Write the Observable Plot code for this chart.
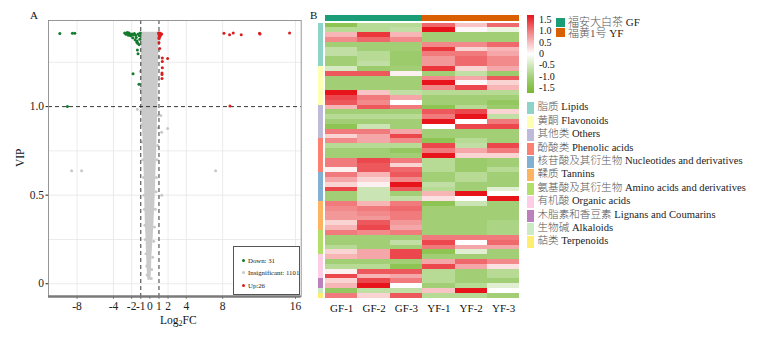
<!DOCTYPE html>
<html><head><meta charset="utf-8">
<script src="https://cdn.jsdelivr.net/npm/d3@7"></script>
<script src="https://cdn.jsdelivr.net/npm/@observablehq/plot@0.6"></script>
<style>
body{margin:0;background:#fff;}
#root{position:relative;width:772px;height:337px;overflow:hidden;font-family:"Liberation Serif","Noto Sans CJK SC",serif;color:#111;background:#fff;}
.abs{position:absolute;white-space:nowrap;line-height:1;}
.cjk{color:#555;font-weight:300;}
</style></head><body><div id="root"></div>
<script>
// ---------- Panel A : volcano ----------
const xTickValues = [-8,-4,-2,-1,0,1,2,4,8,16];
const yTickValues = [0,0.5,1.0];
const yGridValues = [0,0.25,0.5,0.75,1.25];
const xGridValues = [-8,-4,-2,2,4,8,16];
const fcThresholds = [-1,1];
const vipThreshold = [1.0];

const downX = [-9.90,-8.51,-8.25,-2.77,-2.55,-2.29,-2.62,-2.36,-2.11,-1.81,-1.56,-1.30,-1.89,-1.63,-1.45,-1.34,-1.19,-1.37,-1.30,-1.85,-1.20,-9.06,-2.45,-2.20,-1.95,-1.70,-1.50,-1.15,-1.10,-1.40,-1.05];
const downVip = [1.412,1.414,1.414,1.416,1.416,1.416,1.408,1.403,1.400,1.405,1.403,1.410,1.388,1.377,1.365,1.358,1.350,1.320,1.298,1.185,1.126,1.000,1.418,1.410,1.410,1.412,1.390,1.400,1.380,1.370,1.415];
const upX = [8.14,8.76,9.16,10.04,12.05,12.10,15.35,0.95,1.05,1.15,1.00,1.20,1.30,1.10,1.00,1.00,1.08,1.37,1.95,1.37,1.37,1.33,1.33,1.33,8.80,1.00];
const upVip = [1.414,1.406,1.416,1.406,1.414,1.410,1.416,1.415,1.416,1.414,1.405,1.404,1.410,1.395,1.390,1.360,1.328,1.275,1.271,1.254,1.219,1.181,1.190,1.158,1.004,1.385];
const grayX = [-8.6,-7.5,7.22,1.3,1.95,1.29,-1.37,1.2,-1.0,-1.05,-1.0,-0.98,-0.9,-0.85,-0.78,-0.7,-0.65,-0.6,-0.55,-0.5,-0.42,-0.35,-0.3,1.05,1.0,0.98,0.95,0.92,0.9,0.85,0.8,0.72,0.68,0.6,0.5,0.42,0.3,0.2,0.15];
const grayVip = [0.638,0.638,0.638,0.50,0.877,0.855,0.985,0.95,1.38,1.2,1.1,0.98,0.9,0.8,0.7,0.6,0.5,0.42,0.33,0.25,0.17,0.1,0.05,1.38,1.28,1.15,1.05,0.95,0.88,0.78,0.7,0.6,0.52,0.42,0.32,0.24,0.15,0.08,0.03];
// envelope of the dense grey (insignificant) cloud
const cloudVip = [1.42,1.35,1.25,1.15,1.05,0.95,0.85,0.75,0.65,0.55,0.45,0.35,0.25,0.15,0.08,0.02];
const cloudLeft = [-0.95,-0.95,-0.93,-0.93,-0.92,-0.85,-0.78,-0.70,-0.65,-0.58,-0.55,-0.50,-0.42,-0.35,-0.30,-0.22];
const cloudRight = [1.00,1.00,0.95,0.92,0.90,0.85,0.80,0.75,0.68,0.62,0.55,0.45,0.35,0.22,0.18,0.12];
const volcanoLegend = ["Down: 31","Insignificant: 1101","Up:26"];
const volcanoColors = ["#127a2c","#c8c8c8","#d81e1e"];

// ---------- Panel B : heatmap ----------
const samples = ["GF-1","GF-2","GF-3","YF-1","YF-2","YF-3"];
const sampleGroup = [0,0,0,1,1,1];
const groupCN = ["福安大白茶","福黄1号"];
const groupEN = ["GF","YF"];
const groupColors = ["#1b9e77","#d95f02"];
const classCN = ["脂质","黄酮","其他类","酚酸类","核苷酸及其衍生物","鞣质","氨基酸及其衍生物","有机酸","木脂素和香豆素","生物碱","萜类"];
const classEN = ["Lipids","Flavonoids","Others","Phenolic acids","Nucleotides and derivatives","Tannins","Amino acids and derivatives","Organic acids","Lignans and Coumarins","Alkaloids","Terpenoids"];
const classColors = ["#8dd3c7","#ffffb3","#bebada","#fb8072","#80b1d3","#fdb462","#b3de69","#fccde5","#bc80bd","#ccebc5","#ffed6f"];
const classCounts = [9,8,7,7,6,6,5,5,2,1,1];
const heatValues = [
[-1.2,-0.7,-0.7,1.0,0.4,1.0],
[-0.7,-0.7,-0.6,1.6,0.05,-0.2],
[0.5,1.3,0.5,-0.9,-0.9,-0.9],
[0.8,1.0,0.8,-0.9,-0.9,-0.9],
[-0.9,-0.9,-0.9,0.8,0.8,1.0],
[-0.6,-0.9,-0.9,1.3,0.3,0.5],
[-0.6,-0.7,-1.0,0.9,0.9,0.6],
[-0.9,-0.7,-1.0,0.7,1.0,0.8],
[-0.9,-0.6,-1.0,0.7,1.0,0.8],
[-0.4,-1.0,-0.9,1.3,0.3,0.6],
[1.1,1.1,0.1,-0.9,-0.6,-1.0],
[-0.9,-0.9,-0.9,0.8,0.6,1.1],
[-0.9,-0.9,-0.9,1.6,0.05,0.3],
[-0.9,-0.9,-0.9,0.8,1.2,0.5],
[1.6,0.4,-0.6,-0.7,-0.7,-0.7],
[1.2,0.9,0.6,-0.9,-0.9,-0.9],
[1.1,0.8,0.0,-0.9,-0.9,-1.1],
[0.5,1.1,0.9,-1.2,-0.7,-1.0],
[-0.9,-0.9,-0.9,1.1,1.2,0.3],
[-0.7,-0.7,-0.7,0.9,1.6,-0.6],
[-0.9,-0.9,-0.9,1.5,0.0,0.9],
[-1.2,-0.5,-0.9,0.0,1.2,1.2],
[0.9,0.9,0.6,-0.9,-0.9,-0.9],
[0.3,0.6,1.2,-0.9,-0.9,-0.9],
[0.8,0.6,0.8,-1.2,-0.7,-0.9],
[-0.7,-0.7,-0.7,1.2,-0.6,1.2],
[-0.9,-0.9,-1.1,0.9,0.6,0.9],
[-0.9,-0.9,-0.9,1.5,0.3,0.3],
[0.9,1.2,0.9,-0.7,-1.0,-0.9],
[0.9,1.1,0.3,-0.7,-1.0,-0.9],
[0.1,1.1,1.0,-0.7,-1.0,-0.7],
[0.9,0.5,1.1,-0.9,-0.7,-0.9],
[0.6,0.3,0.8,-0.9,-0.7,-0.9],
[0.3,0.1,1.5,-0.6,-0.9,-0.9],
[1.2,-0.5,1.1,-0.7,-0.9,-0.3],
[-0.9,-0.5,-0.9,0.5,1.6,0.0],
[-0.9,-0.5,-0.6,0.2,0.0,1.6],
[0.9,0.5,0.9,-1.2,-0.5,-0.9],
[0.8,0.9,1.0,-0.9,-0.9,-0.9],
[0.7,0.8,0.9,-0.9,-0.9,-0.9],
[0.7,0.7,0.9,-0.9,-0.9,-0.9],
[0.3,1.1,0.7,-0.9,-0.9,-0.8],
[0.5,1.2,0.6,-0.9,-0.9,-0.8],
[0.9,0.8,0.9,-0.9,-0.9,-0.8],
[-0.9,-0.9,-0.9,0.9,0.9,0.9],
[-0.9,-0.9,-0.6,1.2,0.0,1.0],
[-0.7,-0.9,-0.9,0.9,0.6,0.6],
[0.3,0.6,1.2,-1.2,-0.3,-0.9],
[0.5,0.6,1.2,-0.9,-0.9,-0.9],
[-0.9,-0.9,-0.9,0.6,1.0,0.8],
[-0.7,-0.7,-1.2,1.2,0.6,0.2],
[0.1,1.1,1.1,-0.7,-0.9,-0.7],
[1.2,0.5,0.6,-0.7,-0.9,-0.7],
[0.3,1.2,0.9,-0.7,-0.9,-0.9],
[0.5,1.5,0.0,-0.9,-0.7,-0.3],
[-1.1,-0.6,-0.6,0.4,1.6,0.0],
[0.9,0.3,1.1,-0.7,-0.7,-0.9]
];
const heatLegendTicks = [1.5,1.0,0.5,0,-0.5,-1.0,-1.5];
const heatDomain = [-1.5,-0.9,0,0.9,1.5];
const heatRange = ["#78b830","#a2cf76","#ffffff","#f07a7c","#e8141c"];

const root = document.getElementById("root");
function addDiv(html, style){ const d=document.createElement("div"); d.className="abs"; d.innerHTML=html; Object.assign(d.style, style); root.appendChild(d); return d; }

// ----- Plot A -----
const down = downX.map((x,i)=>({x, y: downVip[i]}));
const up = upX.map((x,i)=>({x, y: upVip[i]}));
const gray = grayX.map((x,i)=>({x, y: grayVip[i]}));
const cloud = cloudVip.map((y,i)=>({y, x1: cloudLeft[i], x2: cloudRight[i]}));

const plotA = Plot.plot({
  width: 310, height: 337,
  marginLeft: 48, marginRight: 9.3, marginTop: 20, marginBottom: 41,
  x: {domain: [-11.14, 16.63], ticks: xTickValues, tickFormat: d => String(d), label: null, tickSize: 2.5, tickPadding: 3},
  y: {domain: [-0.072, 1.486], ticks: yTickValues, tickFormat: d => d === 0 ? "0" : d.toFixed(1), label: null, tickSize: 2.5, tickPadding: 2},
  style: {fontFamily: "Liberation Serif", fontSize: "11.5px", color: "#222", background: "transparent"},
  marks: [
    Plot.ruleY(yGridValues, {stroke: "#e6e6e6", strokeWidth: 0.8}),
    Plot.ruleX(xGridValues, {stroke: "#e6e6e6", strokeWidth: 0.8}),
    Plot.areaX(cloud, {y: "y", x1: "x1", x2: "x2", fill: "#cacaca", curve: "monotone-y"}),
    Plot.dot(gray, {x: "x", y: "y", r: 1.5, fill: volcanoColors[1]}),
    Plot.ruleX(fcThresholds, {stroke: "#222", strokeDasharray: "4,3", strokeWidth: 0.9}),
    Plot.ruleY(vipThreshold, {stroke: "#222", strokeDasharray: "4,3", strokeWidth: 0.9}),
    Plot.dot(down, {x: "x", y: "y", r: 1.5, fill: volcanoColors[0]}),
    Plot.dot(up, {x: "x", y: "y", r: 1.5, fill: volcanoColors[2]}),
    Plot.frame({stroke: "#8c8c8c", strokeWidth: 0.9}),
    Plot.ruleY([-0.072], {stroke: "#7a7a7a", strokeWidth: 2.6})
  ]
});
plotA.style.position = "absolute"; plotA.style.left = "0px"; plotA.style.top = "0px";
root.appendChild(plotA);

// Panel A labels
addDiv("A", {left: "30px", top: "10px", fontSize: "11px"});
addDiv("VIP", {left: "11px", top: "152px", fontSize: "11.5px", transform: "rotate(-90deg)", transformOrigin: "center"});
addDiv("Log<sub style='font-size:8px;vertical-align:-2px'>2</sub>FC", {left: "160px", top: "315px", fontSize: "11.5px"});
// volcano legend box
const lg = addDiv("", {left: "233px", top: "246px", width: "67px", height: "49px", border: "1px solid #555", background: "#fff", boxSizing: "border-box"});
volcanoLegend.forEach((t,i)=>{
  const row = document.createElement("div");
  row.style.cssText = `position:absolute;left:8px;top:${9.5 + i*12.9}px;font-size:6.8px;white-space:nowrap;line-height:8px;color:#222`;
  row.innerHTML = `<span style="display:inline-block;width:3px;height:3px;border-radius:50%;background:${volcanoColors[i]};margin-right:3px;vertical-align:1px"></span>${t}`;
  lg.appendChild(row);
});

// ----- Plot B -----
const nRows = heatValues.length;
const cells = heatValues.flatMap((row, r) => row.map((v, c) => ({r, c, v})));
const rowClass = classCounts.flatMap((n, k) => Array(n).fill(k));
const classCells = rowClass.map((k, r) => ({r, k}));
const groupCells = samples.map((s, i) => ({i, g: sampleGroup[i]}));

const plotB = Plot.plot({
  width: 215, height: 337,
  marginLeft: 15, marginRight: 5.7, marginTop: 22.5, marginBottom: 39.3,
  x: {domain: [0, samples.length], axis: null},
  y: {domain: [0, nRows], reverse: true, axis: null},
  color: {type: "linear", domain: heatDomain, range: heatRange, clamp: true},
  style: {fontFamily: "Liberation Serif", fontSize: "11px", color: "#111", background: "transparent"},
  marks: [
    Plot.rect(cells, {x1: "c", x2: d => d.c + 1, y1: "r", y2: d => d.r + 1, fill: "v", shapeRendering: "crispEdges"}),
    Plot.rect(groupCells, {x1: "i", x2: d => d.i + 1, y1: -1.55, y2: -0.31, fill: d => groupColors[d.g], shapeRendering: "crispEdges"}),
    Plot.rect(classCells, {x1: -0.216, x2: -0.062, y1: "r", y2: d => d.r + 1, fill: d => classColors[d.k], shapeRendering: "crispEdges"}),
    Plot.text(samples, {x: (d, i) => i + 0.5, y: nRows, dy: 10, text: d => d, fontSize: 11, fill: "#111"})
  ]
});
plotB.style.position = "absolute"; plotB.style.left = "310px"; plotB.style.top = "0px";
root.appendChild(plotB);

addDiv("B", {left: "310px", top: "10px", fontSize: "11px"});

// continuous colour legend
const stopsSorted = heatDomain.map((v, i) => ({v, c: heatRange[i]})).sort((a, b) => b.v - a.v).map(s => `${s.c} ${((1.5 - s.v) / 3 * 100).toFixed(1)}%`);
addDiv("", {left: "527px", top: "15px", width: "6.5px", height: "78px", background: `linear-gradient(to bottom, ${stopsSorted.join(",")})`});
const legY = d3.scaleLinear().domain([1.5, -1.5]).range([20, 88]);
heatLegendTicks.forEach(v => {
  addDiv(v === 0 ? "0" : v.toFixed(1), {left: "539px", top: (legY(v) - 5) + "px", fontSize: "10px"});
});
// group legend
groupCN.forEach((g, i) => {
  addDiv("", {left: "556px", top: (17.7 + i * 10) + "px", width: "9px", height: "9px", background: groupColors[i]});
  addDiv(`<span class="cjk">${g}</span> ${groupEN[i]}`, {left: "568px", top: (16.5 + i * 11) + "px", fontSize: "11px", color: "#222"});
});
// class legend
classCN.forEach((cn, i) => {
  addDiv("", {left: "527.3px", top: (102.3 + i * 13.4) + "px", width: "6.7px", height: "12px", background: classColors[i]});
  addDiv(`<span class="cjk">${cn}</span> ${classEN[i]}`, {left: "537.5px", top: (102.3 + i * 13.4) + "px", fontSize: "10.6px", color: "#222"});
});
</script></body></html>
